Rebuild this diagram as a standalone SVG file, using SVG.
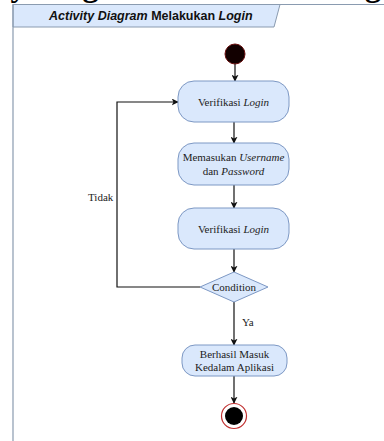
<svg xmlns="http://www.w3.org/2000/svg" width="384" height="441" viewBox="0 0 384 441">
  <style>
    .heading { font-family: "Liberation Serif", serif; font-weight: bold; font-size: 32px; fill: #000; }
    .tab { fill: #dae8fc; stroke: #8a9bb0; stroke-width: 1; }
    .frame { fill: none; stroke: #8a9bb0; stroke-width: 1.2; }
    .tabtext { font-family: "Liberation Sans", Arial, sans-serif; font-weight: bold; font-size: 12.5px; fill: #111; }
    .act { fill: #dae8fc; stroke: #7d98c4; stroke-width: 1; }
    .label { font-family: "Liberation Serif", serif; font-size: 11px; fill: #222; text-anchor: middle; }
    .edge { fill: none; stroke: #111; stroke-width: 1.2; }
    .edgelabel { font-family: "Liberation Serif", serif; font-size: 11px; fill: #222; }
  </style>
  <defs>
    <marker id="arrow" viewBox="0 0 10 10" refX="9" refY="5" markerWidth="7" markerHeight="7" markerUnits="userSpaceOnUse" orient="auto">
      <path d="M0,0 L10,5 L0,10 L2.5,5 Z" fill="#111"/>
    </marker>
  </defs>

  <rect width="384" height="441" fill="#ffffff"/>

  <!-- page heading, mostly above the visible area -->
  <text class="heading" x="-82" y="-4">Activity Diagram Melakukan Login</text>

  <!-- frame with its name tab -->
  <g id="frame">
    <path class="tab" d="M13,4.5 L280,4.5 L274,27 L13,27 Z"/>
    <path class="frame" d="M384,4.5 L13,4.5 L13,441"/>
    <text class="tabtext" x="49" y="20"><tspan font-style="italic">Activity Diagram</tspan> Melakukan <tspan font-style="italic">Login</tspan></text>
  </g>

  <!-- connectors -->
  <g id="connectors">
    <path class="edge" d="M235,64 L235,81" marker-end="url(#arrow)"/>
    <path class="edge" d="M234,122 L234,143" marker-end="url(#arrow)"/>
    <path class="edge" d="M234,185 L234,208" marker-end="url(#arrow)"/>
    <path class="edge" d="M234,249 L234,272" marker-end="url(#arrow)"/>
    <path class="edge" d="M200,287 L117,287 L117,102 L178,102" marker-end="url(#arrow)"/>
    <text class="edgelabel" x="88" y="201">Tidak</text>
    <path class="edge" d="M234,302 L234,345" marker-end="url(#arrow)"/>
    <text class="edgelabel" x="242" y="326">Ya</text>
    <path class="edge" d="M234,376 L234,403" marker-end="url(#arrow)"/>
  </g>

  <g id="start">
    <circle cx="235" cy="54" r="10" fill="#120000" stroke="#6a1010" stroke-width="1"/>
  </g>

  <g id="verifikasi-login-1">
    <rect class="act" x="178" y="81" width="111" height="41" rx="16" ry="16"/>
    <text class="label" x="233.5" y="105.5">Verifikasi <tspan font-style="italic">Login</tspan></text>
  </g>

  <g id="memasukan">
    <rect class="act" x="178" y="143" width="111" height="42" rx="16" ry="16"/>
    <text class="label" x="233.5" y="161">Memasukan <tspan font-style="italic">Username</tspan></text>
    <text class="label" x="233.5" y="175">dan <tspan font-style="italic">Password</tspan></text>
  </g>

  <g id="verifikasi-login-2">
    <rect class="act" x="178" y="208" width="111" height="41" rx="16" ry="16"/>
    <text class="label" x="233.5" y="232.5">Verifikasi <tspan font-style="italic">Login</tspan></text>
  </g>

  <g id="condition">
    <path class="act" d="M234,272 L268,287 L234,302 L200,287 Z"/>
    <text class="label" x="234" y="291">Condition</text>
  </g>

  <g id="berhasil">
    <rect class="act" x="182" y="345" width="105" height="31" rx="13" ry="13"/>
    <text class="label" x="234.5" y="358">Berhasil Masuk</text>
    <text class="label" x="234.5" y="371">Kedalam Aplikasi</text>
  </g>

  <g id="end">
    <circle cx="234" cy="416" r="12.5" fill="#fff" stroke="#c03030" stroke-width="1.2"/>
    <circle cx="234" cy="416" r="9" fill="#000"/>
  </g>
</svg>
